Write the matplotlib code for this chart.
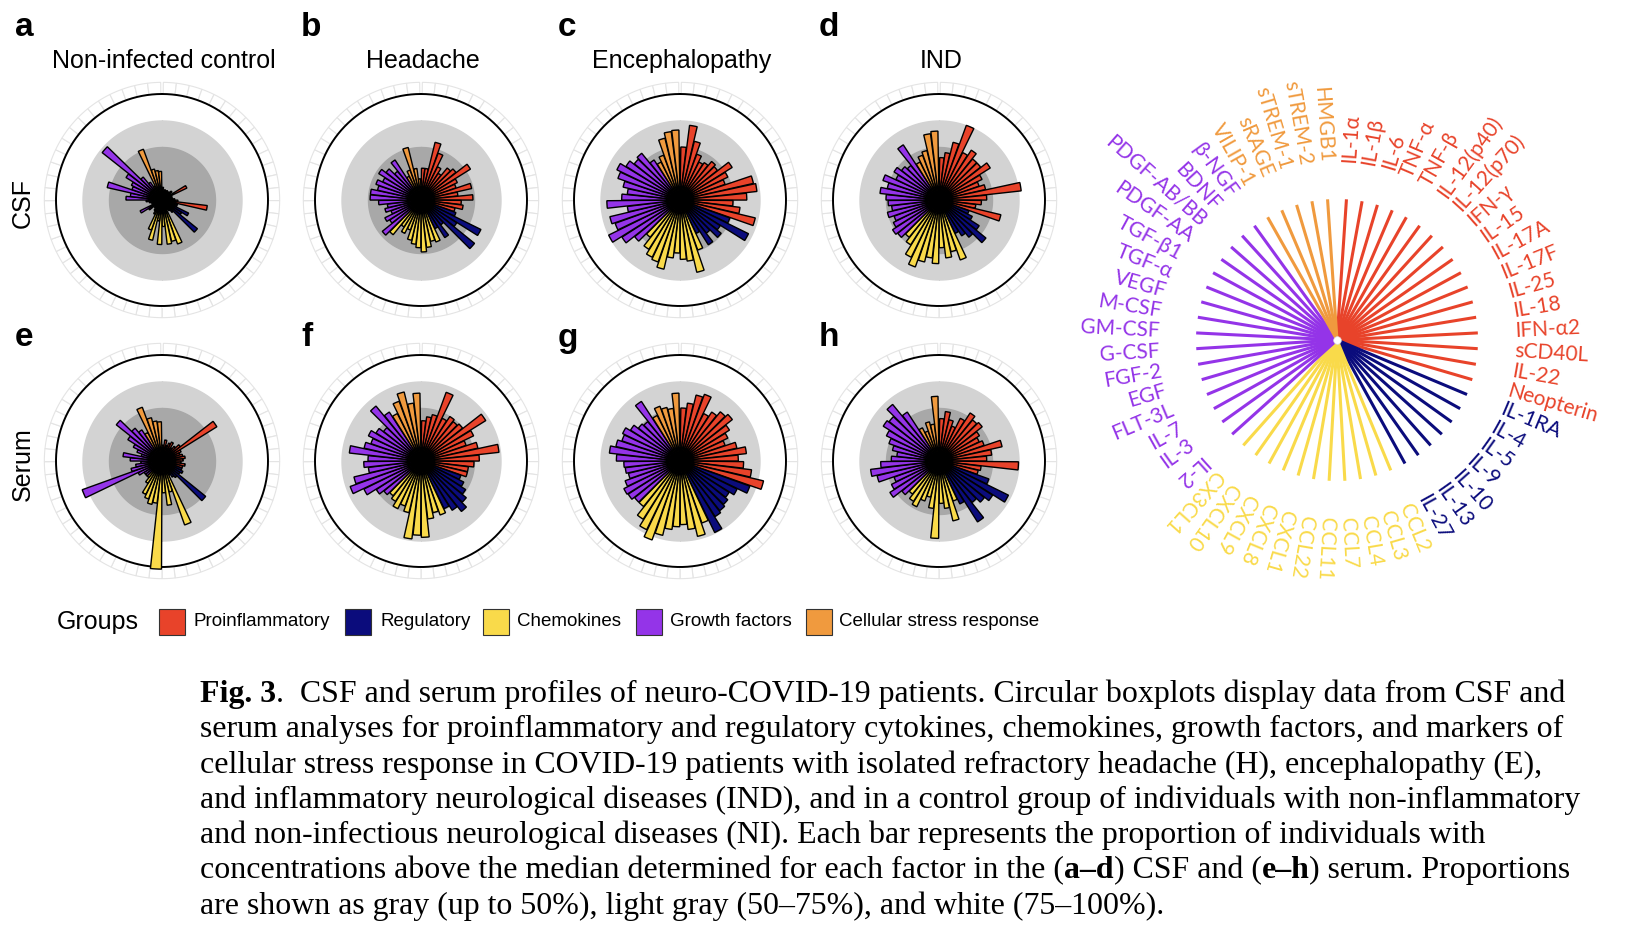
import numpy as np
import matplotlib
matplotlib.use('Agg')
import matplotlib.pyplot as plt
from matplotlib import font_manager
from matplotlib.patches import Rectangle

# ============ factors (clockwise from top) ============
proinflammatory = ['IL-1α', 'IL-1β', 'IL-6', 'TNF-α', 'TNF-β', 'IL-12(p40)', 'IL-12(p70)',
                   'IFN-γ', 'IL-15', 'IL-17A', 'IL-17F', 'IL-25', 'IL-18', 'IFN-α2',
                   'sCD40L', 'IL-22', 'Neopterin']
regulatory = ['IL-1RA', 'IL-4', 'IL-5', 'IL-9', 'IL-10', 'IL-13', 'IL-27']
chemokines = ['CCL2', 'CCL3', 'CCL4', 'CCL7', 'CCL11', 'CCL22', 'CXCL1', 'CXCL8',
              'CXCL9', 'CXCL10', 'CX3CL1']
growth_factors = ['IL-2', 'IL-3', 'IL-7', 'FLT-3L', 'EGF', 'FGF-2', 'G-CSF', 'GM-CSF',
                  'M-CSF', 'VEGF', 'TGF-α', 'TGF-β1', 'PDGF-AA', 'PDGF-AB/BB', 'BDNF', 'β-NGF']
stress_response = ['VILIP-1', 'sRAGE', 'sTREM-1', 'sTREM-2', 'HMGB1']

group_names = ['Proinflammatory', 'Regulatory', 'Chemokines', 'Growth factors',
               'Cellular stress response']
group_colors = ['#E8432A', '#0B0C7C', '#F9DA4A', '#9434E8', '#F09A3E']

# proportion above median, order: proinfl | regulatory | chemokines | growth | stress
csf_control = [0.12, 0.08, 0.10, 0.06, 0.10, 0.08, 0.10, 0.12, 0.10, 0.26, 0.10, 0.08, 0.10, 0.12, 0.15, 0.43, 0.15,
               0.15, 0.28, 0.22, 0.43, 0.15, 0.12, 0.10,
               0.44, 0.40, 0.42, 0.25, 0.42, 0.20, 0.39, 0.30, 0.15, 0.12, 0.10,
               0.08, 0.15, 0.23, 0.10, 0.10, 0.12, 0.15, 0.34, 0.30, 0.53, 0.30, 0.32, 0.40, 0.72, 0.28, 0.20,
               0.15, 0.51, 0.30, 0.28, 0.27]
csf_headache = [0.30, 0.30, 0.56, 0.47, 0.35, 0.30, 0.39, 0.42, 0.55, 0.38, 0.35, 0.49, 0.35, 0.49, 0.38, 0.40, 0.33,
                0.35, 0.63, 0.40, 0.65, 0.30, 0.42, 0.30,
                0.42, 0.40, 0.45, 0.49, 0.45, 0.42, 0.39, 0.30, 0.35, 0.30, 0.42,
                0.47, 0.35, 0.38, 0.30, 0.35, 0.32, 0.40, 0.48, 0.48, 0.42, 0.45, 0.40, 0.47, 0.42, 0.35, 0.45,
                0.25, 0.30, 0.51, 0.30, 0.20]
csf_enceph = [0.50, 0.71, 0.57, 0.46, 0.40, 0.42, 0.47, 0.45, 0.58, 0.50, 0.45, 0.71, 0.73, 0.63, 0.50, 0.57, 0.73,
              0.50, 0.72, 0.45, 0.50, 0.40, 0.50, 0.35,
              0.50, 0.70, 0.58, 0.56, 0.50, 0.55, 0.67, 0.62, 0.60, 0.55, 0.45,
              0.55, 0.65, 0.75, 0.65, 0.68, 0.50, 0.69, 0.55, 0.50, 0.55, 0.62, 0.66, 0.60, 0.55, 0.57, 0.45,
              0.40, 0.45, 0.60, 0.65, 0.66]
csf_ind = [0.40, 0.45, 0.56, 0.75, 0.50, 0.56, 0.50, 0.50, 0.57, 0.45, 0.40, 0.45, 0.78, 0.45, 0.40, 0.35, 0.60,
           0.30, 0.35, 0.45, 0.57, 0.45, 0.40, 0.35,
           0.60, 0.50, 0.55, 0.45, 0.60, 0.55, 0.60, 0.67, 0.60, 0.50, 0.45,
           0.50, 0.52, 0.48, 0.45, 0.50, 0.45, 0.48, 0.50, 0.56, 0.50, 0.56, 0.45, 0.50, 0.45, 0.42, 0.62,
           0.40, 0.45, 0.48, 0.63, 0.65]
serum_control = [0.15, 0.20, 0.15, 0.18, 0.20, 0.15, 0.18, 0.22, 0.61, 0.20, 0.18, 0.20, 0.22, 0.20, 0.18, 0.22, 0.20,
                 0.20, 0.22, 0.20, 0.53, 0.20, 0.18, 0.15,
                 0.64, 0.30, 0.42, 0.30, 1.02, 0.40, 0.42, 0.38, 0.35, 0.25, 0.20,
                 0.20, 0.20, 0.25, 0.80, 0.30, 0.25, 0.20, 0.30, 0.37, 0.20, 0.25, 0.30, 0.38, 0.55, 0.40, 0.35,
                 0.30, 0.54, 0.42, 0.38, 0.37]
serum_headache = [0.38, 0.42, 0.45, 0.69, 0.45, 0.50, 0.48, 0.50, 0.72, 0.55, 0.45, 0.55, 0.74, 0.55, 0.50, 0.45, 0.45,
                  0.40, 0.45, 0.50, 0.55, 0.61, 0.55, 0.50,
                  0.54, 0.50, 0.55, 0.72, 0.70, 0.74, 0.50, 0.45, 0.50, 0.45, 0.42,
                  0.45, 0.50, 0.60, 0.71, 0.65, 0.50, 0.54, 0.50, 0.68, 0.55, 0.50, 0.55, 0.50, 0.45, 0.67, 0.55,
                  0.50, 0.60, 0.67, 0.55, 0.64]
serum_enceph = [0.50, 0.55, 0.64, 0.67, 0.50, 0.55, 0.60, 0.63, 0.55, 0.50, 0.45, 0.55, 0.63, 0.55, 0.60, 0.68, 0.81,
                0.70, 0.60, 0.55, 0.58, 0.60, 0.62, 0.75,
                0.62, 0.73, 0.65, 0.60, 0.62, 0.65, 0.72, 0.79, 0.72, 0.65, 0.55,
                0.55, 0.58, 0.59, 0.55, 0.50, 0.52, 0.53, 0.60, 0.67, 0.62, 0.58, 0.60, 0.55, 0.50, 0.48, 0.67,
                0.48, 0.55, 0.52, 0.50, 0.64]
serum_ind = [0.40, 0.47, 0.40, 0.35, 0.45, 0.54, 0.50, 0.52, 0.45, 0.42, 0.45, 0.61, 0.50, 0.45, 0.75, 0.40, 0.38,
             0.50, 0.73, 0.60, 0.55, 0.50, 0.68, 0.45,
             0.40, 0.58, 0.45, 0.40, 0.73, 0.45, 0.35, 0.40, 0.48, 0.45, 0.40,
             0.45, 0.55, 0.50, 0.45, 0.60, 0.65, 0.55, 0.45, 0.40, 0.45, 0.50, 0.55, 0.62, 0.60, 0.69, 0.55,
             0.35, 0.30, 0.38, 0.35, 0.61]

panel_titles = ['Non-infected control', 'Headache', 'Encephalopathy', 'IND']
panel_letters = ['a', 'b', 'c', 'd', 'e', 'f', 'g', 'h']
row_labels = ['CSF', 'Serum']

caption_lines = [
    [('Fig. 3', 'bold'), ('.  CSF and serum profiles of neuro-COVID-19 patients. Circular boxplots display data from CSF and', 'normal')],
    [('serum analyses for proinflammatory and regulatory cytokines, chemokines, growth factors, and markers of', 'normal')],
    [('cellular stress response in COVID-19 patients with isolated refractory headache (H), encephalopathy (E),', 'normal')],
    [('and inflammatory neurological diseases (IND), and in a control group of individuals with non-inflammatory', 'normal')],
    [('and non-infectious neurological diseases (NI). Each bar represents the proportion of individuals with', 'normal')],
    [('concentrations above the median determined for each factor in the (', 'normal'), ('a–d', 'bold'),
     (') CSF and (', 'normal'), ('e–h', 'bold'), (') serum. Proportions', 'normal')],
    [('are shown as gray (up to 50%), light gray (50–75%), and white (75–100%).', 'normal')],
]

# ============ derived ============
groups = [proinflammatory, regulatory, chemokines, growth_factors, stress_response]
factors = [f for g in groups for f in g]
colors = [c for g, c in zip(groups, group_colors) for _ in g]
n = len(factors)
slot = 2 * np.pi / (n + 0.2)
theta = (np.arange(n) + 0.6) * slot

W, H = 1626, 936
fig = plt.figure(figsize=(W / 100, H / 100), dpi=100)
sans = ['Liberation Sans', 'DejaVu Sans']


def px_axes(cx, cy, half, **kw):
    return fig.add_axes([(cx - half) / W, 1 - (cy + half) / H, 2 * half / W, 2 * half / H], **kw)


R = 106.0
RMAX = 1.14
tt = np.linspace(0, 2 * np.pi, 400)


def draw_panel(cx, cy, values):
    ax = px_axes(cx, cy, R * RMAX, projection='polar')
    ax.set_theta_zero_location('N')
    ax.set_theta_direction(-1)
    ax.set_axis_off()
    ax.set_ylim(0, RMAX)
    ax.bar(theta, 0.11, width=slot, bottom=1.0, facecolor='white', edgecolor='#E4E4E4', linewidth=0.8)
    ax.fill_between(tt, 0, 1.0, color='white', zorder=1)
    ax.fill_between(tt, 0, 0.75, color='#D3D3D3', zorder=1)
    ax.fill_between(tt, 0, 0.5, color='#A8A8A8', zorder=1)
    ax.plot(tt, np.ones_like(tt), color='black', lw=1.4, zorder=2)
    ax.bar(theta, values, width=slot * 0.92, bottom=0, color=colors, edgecolor='black',
           linewidth=1.0, zorder=3)
    ax.fill_between(tt, 0, 0.09, color='black', zorder=4)


panels = [csf_control, csf_headache, csf_enceph, csf_ind,
          serum_control, serum_headache, serum_enceph, serum_ind]
xs = [162, 421, 680, 939]
ys = [200, 461]
letter_x = [15, 301, 558, 819]
letter_y = [28, 338]
for k, vals in enumerate(panels):
    r, c = divmod(k, 4)
    draw_panel(xs[c], ys[r], vals)
    fig.text(letter_x[c] / W, 1 - letter_y[r] / H, panel_letters[k], fontsize=24,
             fontweight='bold', family=sans, ha='left', va='center')

for c, t in enumerate(panel_titles):
    fig.text((xs[c] + 2) / W, 1 - 68 / H, t, fontsize=18, family=sans, ha='center', va='baseline')

for r, lab in enumerate(row_labels):
    fig.text(23 / W, 1 - (ys[r] + 3) / H, lab, fontsize=18, family=sans, rotation=90,
             ha='center', va='center')

# ============ legend ============
names = {f.name for f in font_manager.fontManager.ttflist}
if 'Liberation Sans Narrow' in names:
    leg_family, leg_size = ['Liberation Sans Narrow'], 16.5
else:
    leg_family, leg_size = sans, 13.5
fig.text(57 / W, 1 - 622 / H, 'Groups', fontsize=18, family=sans, ha='left', va='center')
patch_x = [159, 345, 483, 636, 806]
label_x = [193, 380, 517, 670, 839]
for px, lx, name, col in zip(patch_x, label_x, group_names, group_colors):
    fig.patches.append(Rectangle((px / W, 1 - 635 / H), 26 / W, 26 / H, transform=fig.transFigure,
                                 facecolor=col, edgecolor='#333333', linewidth=0.8))
    fig.text(lx / W, 1 - 622 / H, name, fontsize=leg_size, family=leg_family, ha='left', va='center')

# ============ label wheel ============
wx, wy = 1337, 340
wax = px_axes(wx, wy, 200, projection='polar')
wax.set_theta_zero_location('N')
wax.set_theta_direction(-1)
wax.set_axis_off()
wax.set_ylim(0, 200)
wax.vlines(theta, 0, 141, colors=colors, linewidth=2.2)
wax.scatter([0], [0], s=30, color='white', edgecolor='#DDDDDD', linewidth=0.5, zorder=5)
for th, name, col in zip(theta, factors, colors):
    deg = np.degrees(th)
    if deg < 232:
        rot, ha = 90 - deg, 'left'
    else:
        rot, ha = 270 - deg, 'right'
    wax.text(th, 178, name, rotation=rot, rotation_mode='anchor', ha=ha, va='center',
             color=col, fontsize=15, family=['Lato', 'DejaVu Sans'])

# ============ caption ============
serif = ['Liberation Serif', 'DejaVu Serif']
renderer = fig.canvas.get_renderer()
probe = fig.text(0, 0, caption_lines[3][0][0], fontsize=20, family=serif)
cap_size = 20 * 1381 / probe.get_window_extent(renderer).width
probe.remove()
baselines = [702, 737, 773, 808, 843, 878, 914]
for line, yb in zip(caption_lines, baselines):
    x = 200.0
    for txt, wt in line:
        t = fig.text(x / W, 1 - yb / H, txt, fontsize=cap_size, family=serif, fontweight=wt,
                     ha='left', va='baseline')
        x += t.get_window_extent(renderer).width

fig.savefig('out.png', dpi=100)
